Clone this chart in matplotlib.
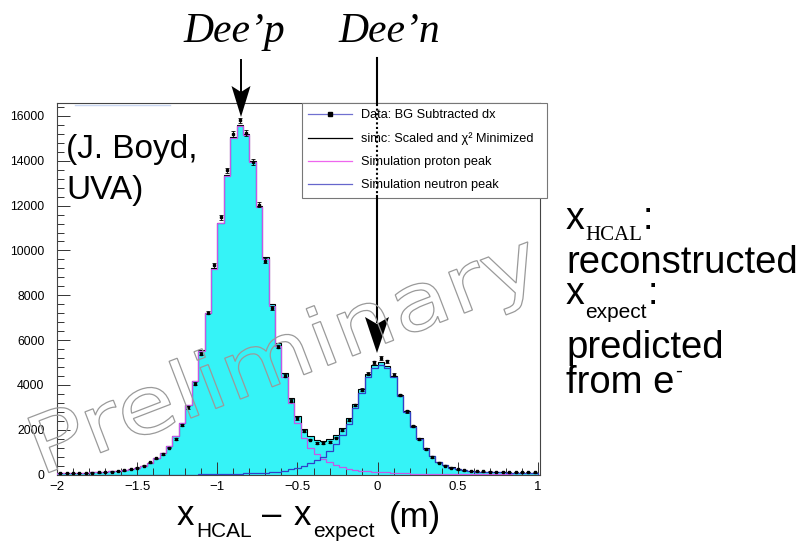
import numpy as np
import matplotlib
matplotlib.use("Agg")
import matplotlib.pyplot as plt
from matplotlib.lines import Line2D
from matplotlib.patches import Polygon, PathPatch
from matplotlib.textpath import TextPath
from matplotlib.font_manager import FontProperties
from matplotlib.transforms import Affine2D
from matplotlib.ticker import MultipleLocator

# dx histogram: 75 bins of 0.04 m between -2 and 1
x_lo, x_hi, n_bins = -2.0, 1.0, 75

data_counts = [
    55, 60, 65, 70, 80, 85, 95, 110, 130, 155, 190,
    240, 300, 400, 540, 720, 920, 1200, 1600, 2220, 3000,
    4060, 5400, 7230, 9330, 11470, 13570, 15200, 15800, 15250, 13950,
    12050, 9550, 7450, 5700, 4400, 3300, 2500, 1950, 1560, 1420,
    1400, 1440, 1650, 1980, 2450, 3100, 3780, 4500, 5000, 5200,
    5050, 4450, 3550, 2820, 2150, 1580, 1130, 780, 520, 400,
    300, 230, 190, 160, 150, 140, 130, 120, 115, 110,
    110, 100, 100, 95,
]

sim_proton = [
    60, 65, 70, 75, 80, 90, 100, 115, 135, 160, 195,
    245, 310, 400, 530, 720, 960, 1280, 1700, 2280, 3080,
    4190, 5525, 7210, 9175, 11220, 13315, 15010, 15555, 15150, 13940,
    11930, 9620, 7500, 5750, 4350, 3200, 2300, 1620, 1180, 900,
    700, 540, 420, 330, 260, 210, 175, 150, 125, 105,
    90, 75, 62, 50, 40, 32, 25, 19, 14, 10,
    8, 6, 5, 4, 3, 2, 2, 1, 1, 1, 0, 0, 0, 0,
]

sim_neutron = [
    0, 0, 0, 0, 0, 0, 0, 0, 0, 0, 0,
    0, 0, 0, 0, 0, 0, 0, 0, 0, 0, 0,
    10, 15, 20, 25, 30, 35, 40, 50, 60,
    70, 80, 100, 130, 170, 230, 300, 400, 520, 650,
    800, 1050, 1350, 1750, 2250, 2950, 3650, 4350, 4750, 4900,
    4750, 4330, 3500, 2780, 2130, 1600, 1160, 820, 560, 420,
    310, 230, 180, 150, 130, 115, 105, 95, 90, 85,
    80, 75, 70, 70,
]

x_ticks = [-2, -1.5, -1, -0.5, 0, 0.5, 1]
x_tick_labels = ["\u22122", "\u22121.5", "\u22121", "\u22120.5", "0", "0.5", "1"]
y_ticks = [0, 2000, 4000, 6000, 8000, 10000, 12000, 14000, 16000]

legend_labels = [
    "Data: BG Subtracted dx",
    "simc: Scaled and \u03c7\u00b2 Minimized",
    "Simulation proton peak",
    "Simulation neutron peak",
]

W, H = 799, 541
plt.rcParams["font.family"] = ["Liberation Sans", "DejaVu Sans"]

fig = plt.figure(figsize=(W / 100, H / 100), dpi=100)
fig.patch.set_facecolor("white")
renderer = fig.canvas.get_renderer()


def fx(px):
    return px / W


def fy(py):
    return 1 - py / H


def put(px, py, s, size, family="Liberation Sans", style="normal", ha="left",
        va="baseline", **kw):
    return fig.text(fx(px), fy(py), s, fontsize=size, family=family,
                    style=style, ha=ha, va=va, **kw)


def put_runs(px, py, parts):
    """Write text pieces one after another; each piece is
    (text, size, baseline shift in px, family)."""
    x = px
    for s, size, dy, family in parts:
        t = put(x, py + dy, s, size, family=family)
        x = t.get_window_extent(renderer).x1 + 0.5


ax_l, ax_r, ax_t, ax_b = 57, 540, 103, 474.5
ax = fig.add_axes([fx(ax_l), fy(ax_b), (ax_r - ax_l) / W, (ax_b - ax_t) / H])

edges = np.linspace(x_lo, x_hi, n_bins + 1)
centers = 0.5 * (edges[:-1] + edges[1:])
data = np.array(data_counts, dtype=float)
prot = np.array(sim_proton, dtype=float)
neut = np.array(sim_neutron, dtype=float)
total = prot + neut

cyan = "#35f3f7"
c_prot = "#c458e8"
c_neut = "#3040c8"

ax.stairs(total, edges, fill=True, color=cyan, zorder=1)
ax.stairs(total, edges, color="black", lw=0.8, zorder=2)
ax.stairs(prot, edges, color=c_prot, lw=0.9, zorder=3)
ax.stairs(neut, edges, color=c_neut, lw=0.9, zorder=3)
ax.errorbar(centers, data, yerr=np.sqrt(data), fmt="s", ms=2.0, color="black",
            ecolor="black", elinewidth=0.6, capsize=1.5, capthick=0.6, zorder=4)

ax.set_xlim(x_lo, 1.0125)
ax.set_ylim(0, 16580)
ax.set_xticks(x_ticks)
ax.set_xticklabels(x_tick_labels)
ax.set_yticks(y_ticks)
ax.xaxis.set_minor_locator(MultipleLocator(0.1))
ax.yaxis.set_minor_locator(MultipleLocator(400))
ax.tick_params(which="both", direction="in", top=False, right=False,
               color="#333333", width=0.7)
ax.tick_params(which="major", length=9.5)
ax.tick_params(which="minor", length=4.8)
ax.tick_params(axis="x", labelsize=9.5, pad=5)
ax.tick_params(axis="y", labelsize=8.8, pad=9)
for sp in ax.spines.values():
    sp.set_color("#444444")
    sp.set_linewidth(0.8)

# legend box
handles = [
    Line2D([], [], color="#7070d0", lw=0.9, marker="s", ms=2.2,
           mfc="black", mec="black"),
    Line2D([], [], color="black", lw=0.9),
    Line2D([], [], color="#ee66ee", lw=0.9),
    Line2D([], [], color="#6666cc", lw=0.9),
]
leg = ax.legend(handles, legend_labels, loc="upper left",
                bbox_to_anchor=(fx(302), fy(196), (547 - 302) / W, (196 - 103) / H),
                bbox_transform=fig.transFigure, mode="expand", borderaxespad=0,
                fontsize=9.2, frameon=True, fancybox=False, framealpha=1,
                edgecolor="#777777", handlelength=3.4, handletextpad=0.7,
                labelspacing=0.86, borderpad=0.5)
leg.get_frame().set_linewidth(0.8)
leg.set_zorder(6)

# faint line along the top of the frame
fig.add_artist(Line2D([fx(75), fx(170)], [fy(104.5), fy(104.5)],
                      transform=fig.transFigure, color="#c8d6f2", lw=1.0))

# outlined watermark, slightly widened and tilted
wm_path = TextPath((0, 0), "Preliminary", size=1,
                   prop=FontProperties(family="DejaVu Sans"))
wm_tf = Affine2D().scale(96, 80).rotate_deg(21).translate(40, H - 476)
fig.add_artist(PathPatch(wm_path, transform=wm_tf, facecolor="none",
                         edgecolor="#9a9a9a", lw=0.9, zorder=7))

# author tag
put(66, 158, "(J. Boyd,", 24)
put(66, 199, "UVA)", 24)

# peak annotations
put(234, 42, "Dee\u2019p", 30, family="Liberation Serif", style="italic", ha="center")
put(389, 42, "Dee\u2019n", 30, family="Liberation Serif", style="italic", ha="center")

fig.add_artist(Line2D([fx(241), fx(241)], [fy(60), fy(92)],
                      transform=fig.transFigure, color="black", lw=1.4))
fig.add_artist(Polygon([(fx(231.5), fy(86)), (fx(241), fy(92)), (fx(250.5), fy(86)),
                        (fx(241), fy(117))], closed=True, transform=fig.transFigure,
                       color="black", lw=0))

fig.add_artist(Line2D([fx(377), fx(377)], [fy(58), fy(103)],
                      transform=fig.transFigure, color="black", lw=1.5))
fig.add_artist(Line2D([fx(377), fx(377)], [fy(104), fy(195)],
                      transform=fig.transFigure, color="black", lw=1.5,
                      ls=(0, (1.0, 1.2)), zorder=8))
fig.add_artist(Line2D([fx(377), fx(377)], [fy(196), fy(322)],
                      transform=fig.transFigure, color="black", lw=1.5))
fig.add_artist(Polygon([(fx(365), fy(317)), (fx(377), fy(324)), (fx(389), fy(317)),
                        (fx(377), fy(353))], closed=True, transform=fig.transFigure,
                       color="black", lw=0))

# x-axis title
put(177, 525, "x", 25)
put(196, 537, "HCAL", 15)
put(262, 525, "\u2013", 25)
put(294, 525, "x", 25)
put(313, 537, "expect", 15)
put(389, 527, "(m)", 25)

# side notes
SERIF, SANS = "Liberation Serif", "Liberation Sans"
put_runs(566, 229, [("x", 27, 0, SANS), ("HCAL", 15, 11, SERIF), (":", 27, 0, SANS)])
put(566, 273, "reconstructed", 27.5)
put_runs(566, 304, [("x", 27, 0, SANS), ("expect", 15, 14, SANS), (":", 27, 0, SANS)])
put(566, 358, "predicted", 27.5)
put_runs(566, 393, [("from e", 27.5, 0, SANS), ("-", 15, -16, SANS)])

fig.savefig("out.png", dpi=100)
